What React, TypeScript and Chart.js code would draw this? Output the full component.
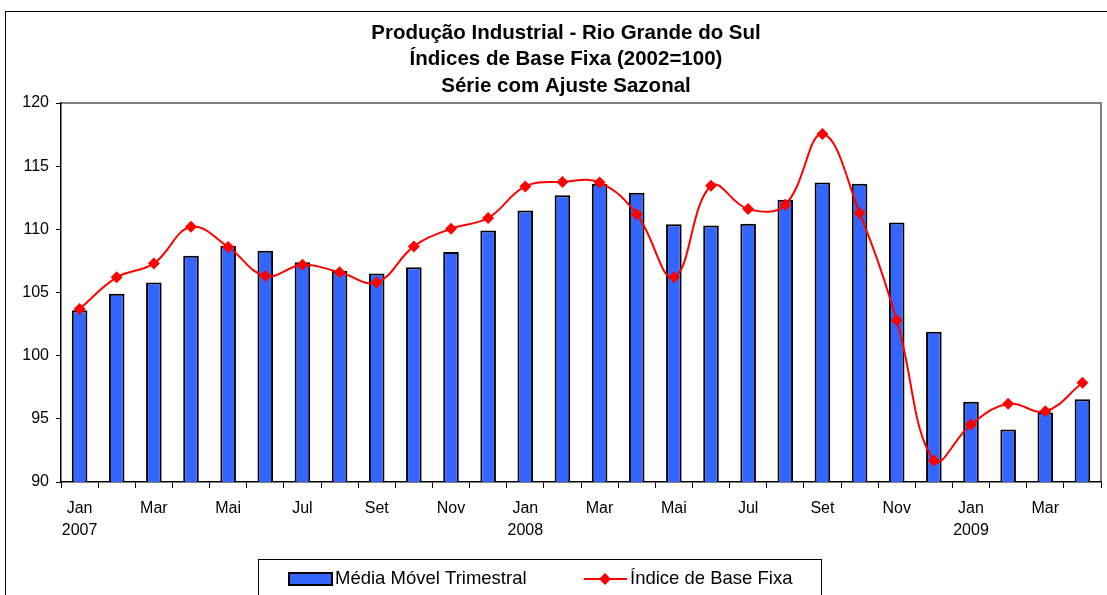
import React, { useEffect, useRef } from "react";
import { Chart, registerables } from "chart.js";

Chart.register(...registerables);

const categories = [
  "Jan 2007", "Fev 2007", "Mar 2007", "Abr 2007", "Mai 2007", "Jun 2007", "Jul 2007", "Ago 2007", "Set 2007", "Out 2007", "Nov 2007", "Dez 2007",
  "Jan 2008", "Fev 2008", "Mar 2008", "Abr 2008", "Mai 2008", "Jun 2008", "Jul 2008", "Ago 2008", "Set 2008", "Out 2008", "Nov 2008", "Dez 2008",
  "Jan 2009", "Fev 2009", "Mar 2009", "Abr 2009",
];

const tickLabels: (string | string[])[] = [
  ["Jan", "2007"], "", "Mar", "", "Mai", "", "Jul", "", "Set", "", "Nov", "",
  ["Jan", "2008"], "", "Mar", "", "Mai", "", "Jul", "", "Set", "", "Nov", "",
  ["Jan", "2009"], "", "Mar", "",
];

const mediaMovel = [
  103.6, 104.9, 105.8, 107.9, 108.7, 108.3, 107.4, 106.7, 106.5, 107.0, 108.2, 109.9,
  111.5, 112.7, 113.6, 112.9, 110.4, 110.3, 110.45, 112.35, 113.7, 113.6, 110.55, 101.9,
  96.35, 94.15, 95.5, 96.55,
];

const indiceBase = [
  103.7, 106.2, 107.3, 110.2, 108.6, 106.3, 107.2, 106.6, 105.8, 108.65, 110.05, 110.9,
  113.4, 113.75, 113.7, 111.2, 106.2, 113.45, 111.6, 111.95, 117.55, 111.3, 102.8, 91.7,
  94.55, 96.2, 95.6, 97.85,
];

const titleLines = [
  "Produção Industrial - Rio Grande do Sul",
  "Índices de Base Fixa (2002=100)",
  "Série com Ajuste Sazonal",
];

const seriesNames = ["Média Móvel Trimestral", "Índice de Base Fixa"];

const FONT = "'Liberation Sans', Arial, sans-serif";
const BLUE = "#3366FF";
const RED = "#FF0000";

const decorPlugin = {
  id: "decor",
  beforeDraw(chart: any) {
    const ctx = chart.ctx;
    const ca = chart.chartArea;
    ctx.save();
    ctx.fillStyle = "#fff";
    ctx.fillRect(0, 0, chart.width, chart.height);
    // outer frame
    ctx.strokeStyle = "#000";
    ctx.lineWidth = 1;
    ctx.strokeRect(5.5, 11.5, chart.width + 20, chart.height + 20);
    // plot area border (gray)
    ctx.strokeStyle = "#808080";
    ctx.lineWidth = 2;
    ctx.beginPath();
    ctx.moveTo(ca.left, ca.top);
    ctx.lineTo(ca.right, ca.top);
    ctx.lineTo(ca.right, ca.bottom);
    ctx.stroke();
    // title
    ctx.fillStyle = "#000";
    ctx.font = `bold 20.5px ${FONT}`;
    ctx.textAlign = "center";
    ctx.textBaseline = "middle";
    const ys = [33, 59.5, 86];
    titleLines.forEach((t, i) => ctx.fillText(t, 566, ys[i]));
    ctx.restore();
  },
  afterDraw(chart: any) {
    const ctx = chart.ctx;
    ctx.save();
    // legend box
    ctx.strokeStyle = "#000";
    ctx.lineWidth = 1;
    ctx.strokeRect(258.5, 559.5, 563, 60);
    // bar swatch
    ctx.fillStyle = BLUE;
    ctx.fillRect(289, 573, 43, 12);
    ctx.lineWidth = 2;
    ctx.strokeRect(289, 573, 43, 12);
    ctx.fillStyle = "#000";
    ctx.font = `18.5px ${FONT}`;
    ctx.textAlign = "left";
    ctx.textBaseline = "middle";
    ctx.fillText(seriesNames[0], 335, 579);
    // line swatch
    ctx.strokeStyle = RED;
    ctx.lineWidth = 2;
    ctx.beginPath();
    ctx.moveTo(584, 579);
    ctx.lineTo(627, 579);
    ctx.stroke();
    ctx.fillStyle = RED;
    ctx.beginPath();
    ctx.moveTo(605, 573);
    ctx.lineTo(611, 579);
    ctx.lineTo(605, 585);
    ctx.lineTo(599, 579);
    ctx.closePath();
    ctx.fill();
    ctx.fillStyle = "#000";
    ctx.fillText(seriesNames[1], 630, 579);
    ctx.restore();
  },
};

export default function App() {
  const ref = useRef<HTMLCanvasElement | null>(null);
  useEffect(() => {
    document.body.style.margin = "0";
    const canvas = ref.current;
    if (!canvas) return;
    const chart = new Chart(canvas, {
      type: "bar",
      data: {
        labels: categories,
        datasets: [
          {
            type: "line",
            label: seriesNames[1],
            data: indiceBase,
            borderColor: RED,
            backgroundColor: RED,
            borderWidth: 2,
            tension: 0.4,
            pointStyle: "rectRot",
            pointRadius: 6,
            pointBorderWidth: 0,
            pointBackgroundColor: RED,
            order: 0,
          } as any,
          {
            type: "bar",
            label: seriesNames[0],
            data: mediaMovel,
            backgroundColor: BLUE,
            borderColor: "#000",
            borderWidth: 2,
            borderSkipped: "start",
            barPercentage: 0.42,
            categoryPercentage: 1,
            order: 1,
          },
        ],
      },
      options: {
        responsive: false,
        animation: false,
        devicePixelRatio: 1,
        layout: { padding: { left: 0, right: 1, top: 103, bottom: 0 } },
        plugins: {
          legend: { display: false },
          title: { display: false },
          tooltip: { enabled: false },
        },
        scales: {
          x: {
            offset: true,
            grid: {
              offset: true,
              drawOnChartArea: false,
              drawTicks: true,
              tickLength: 6,
              color: "#000",
              tickWidth: 1,
            },
            border: { color: "#000", width: 1.5 },
            ticks: {
              autoSkip: false,
              maxRotation: 0,
              minRotation: 0,
              padding: 10,
              color: "#000",
              font: { family: FONT, size: 16, lineHeight: 1.35 },
              callback: (_v: any, i: number) => tickLabels[i],
            },
            afterFit: (s: any) => {
              s.height = 113;
            },
          },
          y: {
            min: 90,
            max: 120,
            grid: {
              drawOnChartArea: false,
              drawTicks: true,
              tickLength: 5,
              color: "#000",
            },
            border: { color: "#000", width: 1.5 },
            ticks: {
              stepSize: 5,
              padding: 7,
              color: "#000",
              font: { family: FONT, size: 16 },
            },
            afterFit: (s: any) => {
              s.width = 61;
            },
          },
        },
      },
      plugins: [decorPlugin],
    });
    return () => chart.destroy();
  }, []);
  return (
    <div style={{ width: 1107, height: 595 }}>
      <canvas ref={ref} width={1107} height={595} style={{ display: "block", width: 1107, height: 595 }} />
    </div>
  );
}
